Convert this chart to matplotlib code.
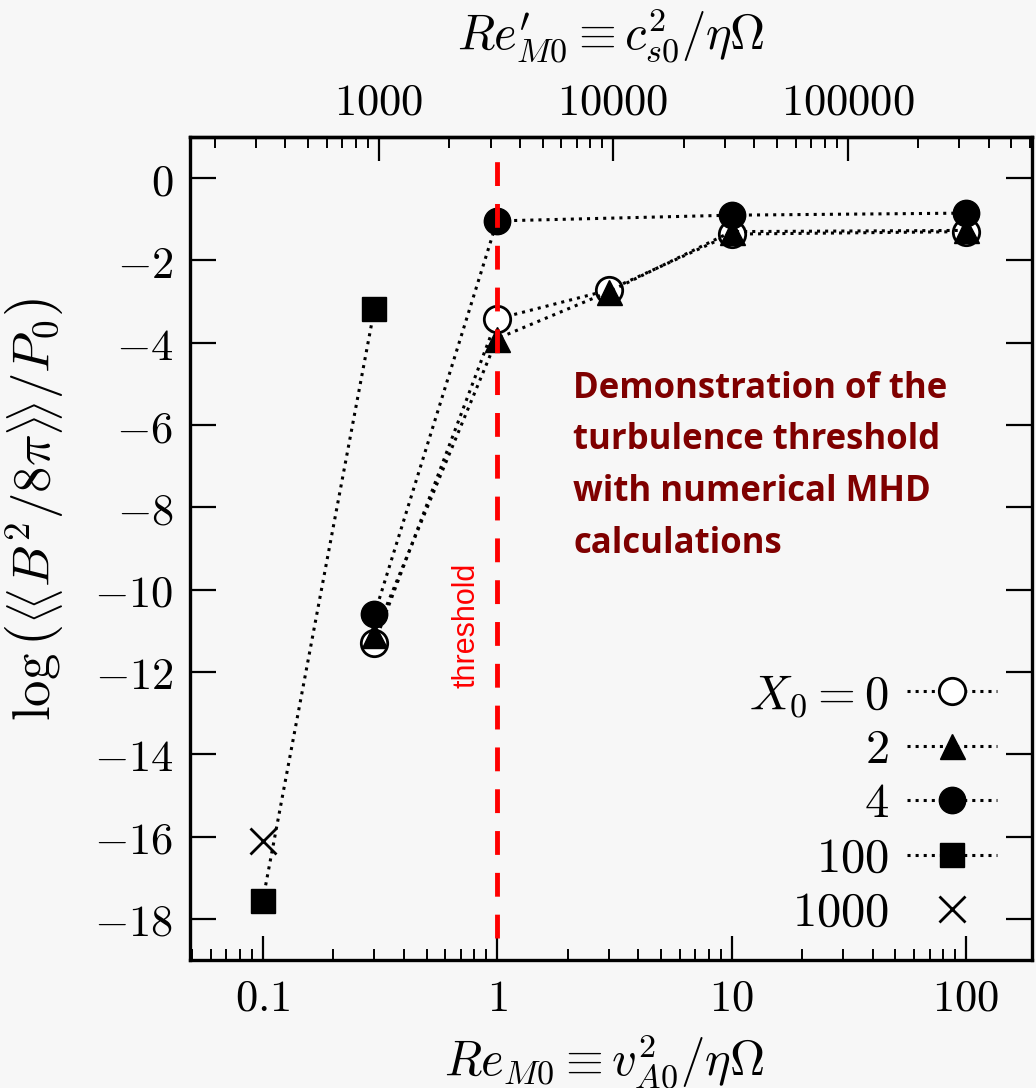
import numpy as np
import matplotlib.pyplot as plt
from matplotlib.ticker import LogLocator, NullFormatter

plt.rcParams['mathtext.fontset'] = 'cm'
plt.rcParams['font.family'] = ['DejaVu Serif']

# data
re_x0_0 = [0.3, 1, 3, 10, 100]
val_x0_0 = [-11.3, -3.42, -2.72, -1.36, -1.3]
re_x0_2 = [0.3, 1, 3, 10, 100]
val_x0_2 = [-11.1, -3.9, -2.76, -1.3, -1.27]
re_x0_4 = [0.3, 1, 10, 100]
val_x0_4 = [-10.6, -1.04, -0.9, -0.85]
re_x0_100 = [0.1, 0.3]
val_x0_100 = [-17.57, -3.17]
re_x0_1000 = [0.1]
val_x0_1000 = [-16.1]

xticks = [0.1, 1, 10, 100]
xticklabels = ['$0.1$', '$1$', '$10$', '$100$']
top_ticks = [1000, 10000, 100000]
top_labels = ['$1000$', '$10000$', '$100000$']
yticks = [0, -2, -4, -6, -8, -10, -12, -14, -16, -18]
cs2_over_va2 = 3200.0   # Re'_M0 / Re_M0
threshold = 1.0

bg = '#f7f7f7'
fig = plt.figure(figsize=(10.36, 10.88), dpi=100, facecolor=bg)
ax = fig.add_axes([0.1834, 0.1176, 0.8126, 0.7565], facecolor=bg)

fs_tick = 32
fs_lab = 35
lw_dot = 2.2
line_kw = dict(color='black', linestyle=':', linewidth=lw_dot)

ax.plot(re_x0_0, val_x0_0, marker='o', markersize=19, markerfacecolor='white',
        markeredgecolor='black', markeredgewidth=2, label='$X_0 = 0$', **line_kw)
ax.plot(re_x0_2, val_x0_2, marker='^', markersize=18, markerfacecolor='black',
        markeredgecolor='black', label='$2$', **line_kw)
ax.plot(re_x0_4, val_x0_4, marker='o', markersize=19, markerfacecolor='black',
        markeredgecolor='black', label='$4$', **line_kw)
ax.plot(re_x0_100, val_x0_100, marker='s', markersize=17, markerfacecolor='black',
        markeredgecolor='black', label='$100$', **line_kw)
ax.plot(re_x0_1000, val_x0_1000, linestyle='none', marker='x', markersize=19,
        markeredgewidth=2, color='black', label='$1000$')

# threshold line on top of markers
ax.axvline(threshold, ymin=0.027, ymax=0.978, color='#ff0000', linewidth=3.5,
           dashes=(4.9, 3.7), zorder=5)
ax.text(0.328, 0.407, 'threshold', transform=ax.transAxes, rotation=90,
        color='#ff0000', fontsize=22, family='Liberation Sans',
        ha='center', va='center', zorder=6)

ax.text(0.455, 0.716, 'Demonstration of the\nturbulence threshold\nwith numerical MHD\ncalculations',
        transform=ax.transAxes, color='#7f0000', fontsize=25, fontweight='bold',
        family='Open Sans', ha='left', va='top', linespacing=1.58)

ax.set_xscale('log')
ax.set_xlim(0.049, 191)
ax.set_ylim(-19, 1)

ax.set_xticks(xticks, xticklabels)
ax.xaxis.set_minor_locator(LogLocator(base=10, subs=np.arange(2, 10)))
ax.xaxis.set_minor_formatter(NullFormatter())
ax.set_yticks(yticks, [f'${v}$' for v in yticks])

ax.tick_params(axis='both', which='major', direction='in', length=17, width=1.6,
               labelsize=fs_tick, pad=12, right=True)
ax.tick_params(axis='x', which='minor', direction='in', length=8, width=1.4)
ax.tick_params(axis='y', which='major', length=19)
for s in ax.spines.values():
    s.set_linewidth(2.4)

sec = ax.secondary_xaxis('top', functions=(lambda x: x * cs2_over_va2,
                                           lambda x: x / cs2_over_va2))
sec.set_xticks(top_ticks, top_labels)
sec.xaxis.set_minor_locator(LogLocator(base=10, subs=np.arange(2, 10)))
sec.xaxis.set_minor_formatter(NullFormatter())
sec.tick_params(axis='x', which='major', direction='in', length=17, width=1.6,
                labelsize=fs_tick, pad=10)
sec.tick_params(axis='x', which='minor', direction='in', length=8, width=1.4)
sec.spines['top'].set_linewidth(2.4)
# top axis title
ax.text(0.5, 1.089, r"$Re^{\prime}_{M0} \equiv c_{s0}^2/\eta\Omega$", transform=ax.transAxes,
        fontsize=fs_lab, ha='center', va='bottom')

ax.set_xlabel(r'$Re_{M0} \equiv v_{A0}^2/\eta\Omega$', fontsize=fs_lab)
ax.xaxis.set_label_coords(0.492, -0.087)
ax.set_ylabel(r'$\log\left(\left\langle\!\left\langle B^2/8\pi\right\rangle\!\right\rangle/P_0\right)$',
              fontsize=38)
ax.yaxis.set_label_coords(-0.147, 0.547)

leg = ax.legend(loc='lower right', bbox_to_anchor=(0.993, -0.006), markerfirst=False,
                frameon=False, fontsize=fs_lab, handlelength=1.85, handletextpad=0.37,
                labelspacing=0.15, borderaxespad=0.2)

fig.savefig('out.png', dpi=100, facecolor=bg)
